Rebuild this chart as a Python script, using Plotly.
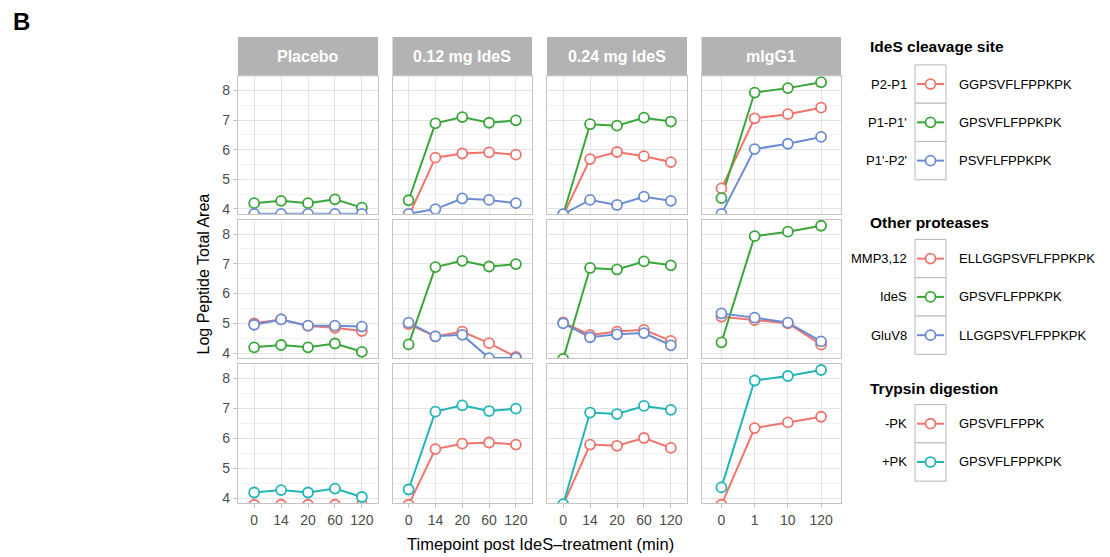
import plotly.graph_objects as go

W, H = 1110, 557

# ---------------- data ----------------
panels = ["Placebo", "0.12 mg IdeS", "0.24 mg IdeS", "mIgG1"]
time_ides = ["0", "14", "20", "60", "120"]
time_migg = ["0", "1", "10", "120"]
panel_times = [time_ides, time_ides, time_ides, time_migg]

# GPSVFLFPPKPK (shared peptide: P1-P1', IdeS, +PK)
gpsvflfppkpk = [
    [4.19, 4.27, 4.19, 4.32, 4.04],
    [4.29, 6.89, 7.10, 6.91, 6.99],
    [3.80, 6.86, 6.81, 7.08, 6.95],
    [4.36, 7.93, 8.08, 8.28],
]
# row 1: IdeS cleavage site
p2_p1 = [
    [3.78, 3.78, 3.78, 3.78, 3.78],
    [3.75, 5.73, 5.87, 5.91, 5.83],
    [3.78, 5.68, 5.92, 5.78, 5.58],
    [4.69, 7.06, 7.20, 7.42],
]
p1_p1 = gpsvflfppkpk
p1_p2 = [
    [3.83, 3.83, 3.83, 3.83, 3.83],
    [3.83, 3.99, 4.35, 4.30, 4.19],
    [3.82, 4.30, 4.13, 4.41, 4.27],
    [3.83, 6.02, 6.20, 6.43],
]
# row 2: other proteases
mmp = [
    [5.00, 5.13, 4.91, 4.85, 4.74],
    [4.97, 4.56, 4.72, 4.33, 3.87],
    [5.03, 4.61, 4.72, 4.78, 4.41],
    [5.22, 5.11, 5.00, 4.28],
]
ides = gpsvflfppkpk
gluv8 = [
    [4.95, 5.13, 4.92, 4.92, 4.89],
    [5.02, 4.56, 4.61, 3.83, 3.83],
    [5.00, 4.53, 4.63, 4.67, 4.26],
    [5.33, 5.19, 5.02, 4.39],
]
# row 3: trypsin digestion
minus_pk = [
    [3.78, 3.78, 3.78, 3.78, 3.78],
    [3.78, 5.64, 5.82, 5.86, 5.79],
    [3.78, 5.79, 5.75, 6.01, 5.68],
    [3.78, 6.34, 6.53, 6.72],
]
plus_pk = gpsvflfppkpk

RED, GREEN, BLUE, TEAL = "#F0746B", "#3AA63A", "#6C8CD2", "#22B5B6"

rows = [
    [(p2_p1, RED), (p1_p1, GREEN), (p1_p2, BLUE)],
    [(mmp, RED), (ides, GREEN), (gluv8, BLUE)],
    [(minus_pk, RED), (plus_pk, TEAL)],
]

legend_groups = [
    ("IdeS cleavage site", ["P2-P1", "P1-P1'", "P1'-P2'"],
     ["GGPSVFLFPPKPK", "GPSVFLFPPKPK", "PSVFLFPPKPK"], [RED, GREEN, BLUE], 47, 84.5),
    ("Other proteases", ["MMP3,12", "IdeS", "GluV8"],
     ["ELLGGPSVFLFPPKPK", "GPSVFLFPPKPK", "LLGGPSVFLFPPKPK"], [RED, GREEN, BLUE], 224, 260),
    ("Trypsin digestion", ["-PK", "+PK"],
     ["GPSVFLFPPK", "GPSVFLFPPKPK"], [RED, TEAL], 391, 426),
]

# ---------------- layout geometry (pixels) ----------------
col_px = [(238, 378), (392.5, 532), (547, 687), (701.5, 841)]
row_px = [(76.7, 215), (221, 360), (366, 506)]
strip_px = (37.3, 76.7)

fx = lambda px: px / W
fy = lambda py: 1 - py / H

FONT = "Liberation Sans, Arial, Helvetica, sans-serif"
fig = go.Figure()
layout = dict(width=W, height=H, margin=dict(l=0, r=0, t=0, b=0), autosize=False,
              paper_bgcolor="white", plot_bgcolor="white", showlegend=False,
              font=dict(family=FONT, color="#4d4d4d", size=13))
shapes, annotations = [], []


def ann(text, px, py, size, color="black", xanchor="center", angle=0):
    annotations.append(dict(text=text, x=fx(px), y=fy(py), xref="paper", yref="paper",
                            xanchor=xanchor, yanchor="middle", showarrow=False,
                            textangle=angle, font=dict(size=size, color=color, family=FONT)))


for r, series in enumerate(rows):
    for c in range(4):
        k = r * 4 + c + 1
        xn = "x" if k == 1 else f"x{k}"
        yn = "y" if k == 1 else f"y{k}"
        cats = panel_times[c]
        # lines first, then points (ggplot order)
        for data, col in series:
            fig.add_trace(go.Scatter(x=cats, y=data[c], mode="lines", xaxis=xn, yaxis=yn,
                                     line=dict(color=col, width=2), hoverinfo="skip"))
        for data, col in series:
            fig.add_trace(go.Scatter(x=cats, y=data[c], mode="markers", xaxis=xn, yaxis=yn,
                                     cliponaxis=True,
                                     marker=dict(symbol="circle", size=10, color="white",
                                                 line=dict(color=col, width=1.8))))
        xa = dict(domain=[fx(col_px[c][0]), fx(col_px[c][1])], anchor=yn, type="category",
                  categoryorder="array", categoryarray=cats,
                  range=[-0.6, len(cats) - 0.4], showgrid=True, gridcolor="#e3e3e3", gridwidth=1,
                  zeroline=False, showline=True, mirror=True, linecolor="#c4c4c4", linewidth=1.3,
                  fixedrange=True)
        if r == 2:
            xa.update(ticks="outside", ticklen=4, tickcolor="#c4c4c4", showticklabels=True,
                      tickfont=dict(size=14, color="#4d4d4d"))
        else:
            xa.update(ticks="", showticklabels=False)
        ya = dict(domain=[fy(row_px[r][1]), fy(row_px[r][0])], anchor=xn,
                  range=[3.83, 8.48], tickvals=[4, 5, 6, 7, 8], showgrid=True,
                  gridcolor="#e3e3e3", gridwidth=1, zeroline=False, showline=True, mirror=True,
                  linecolor="#c4c4c4", linewidth=1.3, fixedrange=True,
                  minor=dict(tickvals=[4.5, 5.5, 6.5, 7.5], showgrid=True,
                             gridcolor="#f1f1f1", gridwidth=0.6, ticks=""))
        if c == 0:
            ya.update(ticks="outside", ticklen=4, tickcolor="#c4c4c4", showticklabels=True,
                      tickfont=dict(size=14, color="#4d4d4d"))
        else:
            ya.update(ticks="", showticklabels=False)
        layout["xaxis" if k == 1 else f"xaxis{k}"] = xa
        layout["yaxis" if k == 1 else f"yaxis{k}"] = ya

# strips
for c, name in enumerate(panels):
    x0, x1 = col_px[c]
    shapes.append(dict(type="rect", xref="paper", yref="paper", x0=fx(x0), x1=fx(x1),
                       y0=fy(strip_px[1]), y1=fy(strip_px[0]), fillcolor="#b3b3b3",
                       line=dict(width=0), layer="below"))
    ann(f"<b>{name}</b>", (x0 + x1) / 2, sum(strip_px) / 2, 16, color="white")

# axis titles and panel label
ann("Log Peptide Total Area", 204, 276, 16, angle=-90)
ann("Timepoint post IdeS\u2013treatment (min)", 540, 547, 16.5)
ann("<b>B</b>", 21, 22, 24)

# legends (drawn manually to mimic ggplot boxed keys)
ROWH = 38.5
KX0, KX1 = 915, 946
for title, left, right, cols, ty, first in legend_groups:
    ann(f"<b>{title}</b>", 868, ty, 15.5, xanchor="left")
    for i, (lt, rt, col) in enumerate(zip(left, right, cols)):
        cy = first + i * ROWH
        shapes.append(dict(type="rect", xref="paper", yref="paper", x0=fx(KX0), x1=fx(KX1),
                           y0=fy(cy + ROWH / 2), y1=fy(cy - ROWH / 2),
                           line=dict(color="#b8b8b8", width=1), fillcolor="white"))
        shapes.append(dict(type="line", xref="paper", yref="paper", x0=fx(KX0 + 2), x1=fx(KX1 - 2),
                           y0=fy(cy), y1=fy(cy), line=dict(color=col, width=2)))
        shapes.append(dict(type="circle", xref="paper", yref="paper",
                           x0=fx((KX0 + KX1) / 2 - 5), x1=fx((KX0 + KX1) / 2 + 5),
                           y0=fy(cy + 5), y1=fy(cy - 5), fillcolor="white",
                           line=dict(color=col, width=1.8)))
        ann(lt, 909, cy, 13, xanchor="right")
        ann(rt, 957, cy, 13, xanchor="left")

layout["shapes"] = shapes
layout["annotations"] = annotations
fig.update_layout(**layout)
fig.write_html("out.html")
